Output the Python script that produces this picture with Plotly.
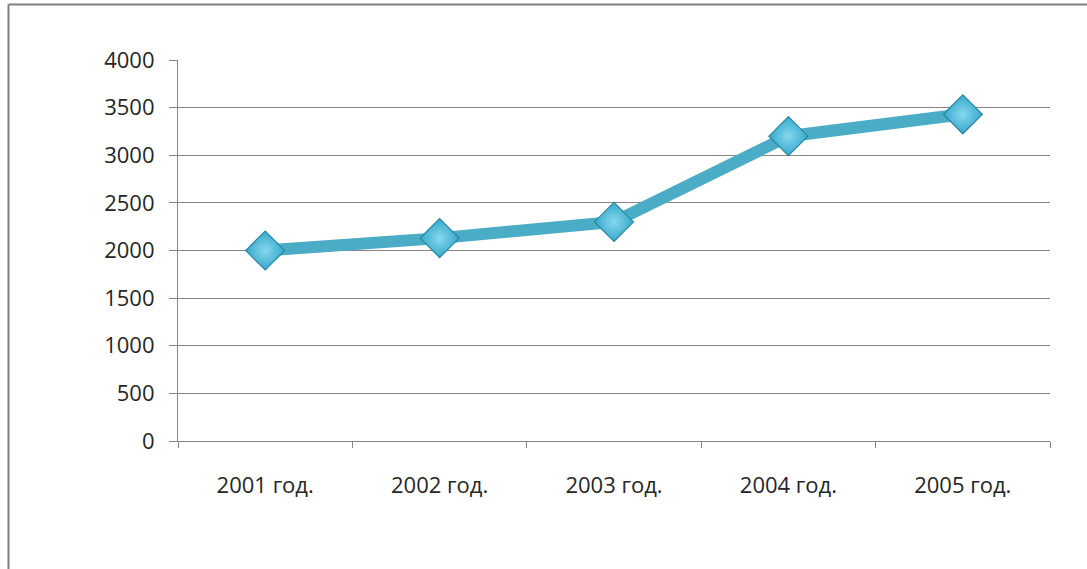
import plotly.graph_objects as go

categories = ["2001 год.", "2002 год.", "2003 год.", "2004 год.", "2005 год."]
values = [2000, 2130, 2300, 3200, 3430]
y_ticks = [0, 500, 1000, 1500, 2000, 2500, 3000, 3500, 4000]

W, H = 1087, 569
L, R, T, B = 178, 37, 60, 128
pw, ph = W - L - R, H - T - B

def px_x(p):
    return (p - L) / pw

def px_y(p):
    return (H - B - p) / ph

fig = go.Figure()
fig.add_trace(go.Scatter(
    x=categories, y=values, mode="lines+markers",
    line=dict(color="#4BACC6", width=12),
    marker=dict(symbol="diamond", size=30, color="#35A8CB",
                gradient=dict(type="radial", color="#86D8EF"),
                line=dict(color="#2A87A3", width=1.2)),
    showlegend=False, hoverinfo="x+y",
))

font = dict(family="Open Sans, Noto Sans, sans-serif", size=22, color="#262626")

fig.update_layout(
    width=W, height=H,
    margin=dict(l=L, r=R, t=T, b=B),
    paper_bgcolor="white", plot_bgcolor="white",
    font=font,
    xaxis=dict(type="category", range=[-0.5, 4.5], showgrid=False,
               showline=True, linecolor="#868686", linewidth=1.2,
               ticks="outside", tickson="boundaries", ticklen=6,
               tickcolor="#868686", ticklabelstandoff=24,
               tickfont=font, zeroline=False),
    yaxis=dict(range=[0, 4000], tickvals=y_ticks, showgrid=True,
               gridcolor="#868686", gridwidth=1.2,
               showline=True, linecolor="#868686", linewidth=1.2,
               ticks="outside", ticklen=8, tickcolor="#868686",
               ticklabelstandoff=10, tickfont=font, zeroline=False),
    shapes=[
        dict(type="line", xref="paper", yref="paper",
             x0=px_x(8.5), x1=px_x(8.5), y0=px_y(4.5), y1=px_y(600),
             line=dict(color="#808080", width=2)),
        dict(type="line", xref="paper", yref="paper",
             x0=px_x(8.5), x1=px_x(1100), y0=px_y(4.5), y1=px_y(4.5),
             line=dict(color="#808080", width=2)),
    ],
)

fig.write_html("out.html", config={"displayModeBar": False},
               post_script="document.body.style.margin='0';document.body.style.overflow='hidden';")
